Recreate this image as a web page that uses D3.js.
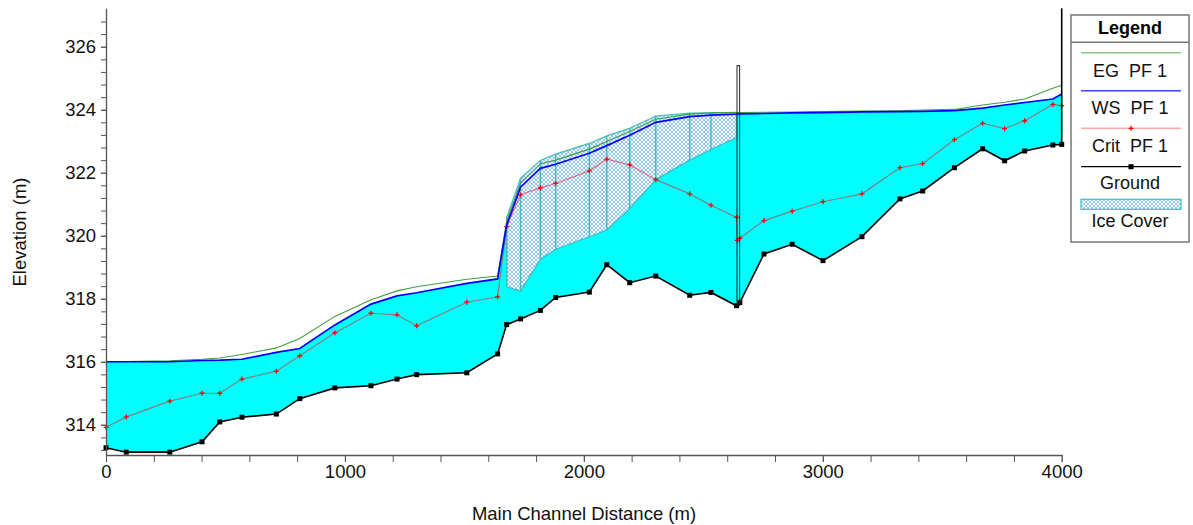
<!DOCTYPE html>
<html lang="en">
<head>
<meta charset="UTF-8">
<title>Profile Plot</title>
<script src="https://cdn.jsdelivr.net/npm/d3@7"></script>
<style>
  body { margin: 0; background: #fff; }
  text { font-family: "Liberation Sans", Arial, sans-serif; }
</style>
</head>
<body>
<svg id="main" width="1193" height="525"></svg>
<script>
// cross sections (main channel distance, m)
var stations = [0, 85, 267, 402, 476, 569, 713, 811, 958, 1109, 1218, 1300, 1510, 1639, 1677,
  1735, 1818, 1882, 2023, 2096, 2192, 2301, 2443, 2532, 2639, 2653, 2754, 2872, 3001, 3164,
  3323, 3418, 3551, 3669, 3761, 3845, 3963, 4000];
var ground = [313.27, 313.13, 313.13, 313.46, 314.09, 314.24, 314.34, 314.83, 315.17, 315.24,
  315.45, 315.59, 315.65, 316.25, 317.18, 317.36, 317.63, 318.04, 318.21, 319.08, 318.51,
  318.72, 318.11, 318.2, 317.78, 317.88, 319.42, 319.73, 319.21, 319.97, 321.17, 321.42,
  322.16, 322.76, 322.38, 322.69, 322.88, 322.9];
var wsPF1 = [316.0, 316.0, 316.0, 316.04, 316.05, 316.08, 316.3, 316.42, 317.17, 317.83,
  318.09, 318.19, 318.49, 318.63, 320.34, 321.54, 322.14, 322.27, 322.62, 322.86, 323.19,
  323.6, 323.78, 323.83, 323.86, 323.87, 323.88, 323.9, 323.91, 323.93, 323.94, 323.95,
  323.97, 324.05, 324.15, 324.23, 324.34, 324.5];
var egPF1 = [316.0, 316.01, 316.03, 316.08, 316.12, 316.23, 316.44, 316.74, 317.44, 317.97,
  318.25, 318.38, 318.62, 318.72, 320.47, 321.67, 322.28, 322.4, 322.75, 322.99, 323.31,
  323.7, 323.86, 323.9, 323.91, 323.91, 323.92, 323.93, 323.94, 323.96, 323.97, 323.99,
  324.01, 324.15, 324.24, 324.34, 324.68, 324.78];

var critDist = [0, 85, 267, 402, 476, 569, 713, 811, 958, 1109, 1218, 1300, 1510, 1639, 1677,
  1735, 1818, 1882, 2023, 2096, 2192, 2301, 2443, 2532, 2639, 2642, 2653, 2754, 2872, 3001,
  3164, 3323, 3418, 3551, 3669, 3761, 3845, 3963, 4000];
var critPF1 = [313.92, 314.25, 314.75, 315.0, 315.0, 315.45, 315.7, 316.19, 316.92, 317.54,
  317.49, 317.14, 317.89, 318.06, 320.29, 321.3, 321.52, 321.66, 322.06, 322.43, 322.25,
  321.78, 321.33, 320.97, 320.58, 319.85, 319.92, 320.48, 320.78, 321.08, 321.33, 322.16,
  322.29, 323.05, 323.57, 323.4, 323.65, 324.17, 324.13];

var iceDist = [1677, 1735, 1818, 1882, 2023, 2096, 2192, 2301, 2443, 2532, 2639];
var iceTop = [320.58, 321.82, 322.39, 322.59, 322.93, 323.17, 323.41, 323.8, 323.89, 323.9, 323.92];
var iceBottom = [318.38, 318.24, 319.25, 319.57, 319.97, 320.18, 320.86, 321.79, 322.4, 322.74, 323.12];

// inline structure
var structDist = [2641, 2652];
var structTop = 325.4;

var xMajor = [0, 1000, 2000, 3000, 4000];
var yMajor = [314, 316, 318, 320, 322, 324, 326];
var legendLabels = ["EG  PF 1", "WS  PF 1", "Crit  PF 1", "Ground", "Ice Cover"];

var svg = d3.select('svg#main');

var x = d3.scaleLinear().domain([0, 4000]).range([106, 1061.7]);
var y = d3.scaleLinear().domain([313.04, 327.22]).range([455, 8.3]);

var defs = svg.append('defs');
var pat = defs.append('pattern')
    .attr('id', 'ice').attr('patternUnits', 'userSpaceOnUse')
    .attr('width', 4).attr('height', 4);
pat.append('rect').attr('width', 4).attr('height', 4).attr('fill', '#ffffff');
pat.append('path').attr('d', 'M0,0L4,4M4,0L0,4').attr('stroke', '#6cb2f4').attr('stroke-width', 0.75);

var gData = stations.map(function(d, i) {
    return {d: d, g: ground[i], ws: wsPF1[i], eg: egPF1[i]};
});
var iceData = iceDist.map(function(d, i) { return {d: d, t: iceTop[i], b: iceBottom[i]}; });
var critData = critDist.map(function(d, i) { return {d: d, c: critPF1[i]}; });

// water
svg.append('path')
    .datum(gData)
    .attr('fill', '#00ffff')
    .attr('d', d3.area().x(function(d) { return x(d.d); })
        .y0(function(d) { return y(d.g); }).y1(function(d) { return y(d.ws); }));

// ice cover
var iceArea = d3.area().x(function(d) { return x(d.d); })
    .y0(function(d) { return y(d.b); }).y1(function(d) { return y(d.t); });
svg.append('path')
    .datum(iceData)
    .attr('fill', 'url(#ice)')
    .attr('stroke', '#40bcbc').attr('stroke-width', 1.2)
    .attr('d', iceArea);

svg.append('g').selectAll('line')
    .data(iceData)
    .enter().append('line')
    .attr('x1', function(d) { return x(d.d); }).attr('x2', function(d) { return x(d.d); })
    .attr('y1', function(d) { return y(d.b); }).attr('y2', function(d) { return y(d.t); })
    .attr('stroke', '#40bcbc').attr('stroke-width', 1.4);

// ground
svg.append('path')
    .datum(gData)
    .attr('fill', 'none').attr('stroke', '#000').attr('stroke-width', 1.6)
    .attr('d', d3.line().x(function(d) { return x(d.d); }).y(function(d) { return y(d.g); }));
svg.append('g').selectAll('rect')
    .data(gData)
    .enter().append('rect')
    .attr('x', function(d) { return x(d.d) - 2.5; })
    .attr('y', function(d) { return y(d.g) - 2.5; })
    .attr('width', 5).attr('height', 5).attr('fill', '#000');

// critical depth
svg.append('path')
    .datum(critData)
    .attr('fill', 'none').attr('stroke', '#ff0000').attr('stroke-opacity', 0.5).attr('stroke-width', 1.2)
    .attr('d', d3.line().x(function(d) { return x(d.d); }).y(function(d) { return y(d.c); }));
svg.append('g').selectAll('path')
    .data(critData)
    .enter().append('path')
    .attr('transform', function(d) { return 'translate(' + x(d.d) + ',' + y(d.c) + ')'; })
    .attr('d', 'M-2.5,0H2.5M0,-2.5V2.5')
    .attr('stroke', '#ff0000').attr('stroke-width', 1.3);

// energy grade and water surface
svg.append('path')
    .datum(gData)
    .attr('fill', 'none').attr('stroke', '#3f9f3f').attr('stroke-width', 1.1)
    .attr('d', d3.line().x(function(d) { return x(d.d); }).y(function(d) { return y(d.eg); }));
svg.append('path')
    .datum(gData)
    .attr('fill', 'none').attr('stroke', '#0000ff').attr('stroke-width', 1.7)
    .attr('d', d3.line().x(function(d) { return x(d.d); }).y(function(d) { return y(d.ws); }));

// structure
svg.append('rect')
    .attr('x', x(structDist[0])).attr('y', y(structTop))
    .attr('width', x(structDist[1]) - x(structDist[0]))
    .attr('height', y(ground[24]) - y(structTop))
    .attr('fill', 'none').attr('stroke', '#222').attr('stroke-width', 1);

// right end wall
svg.append('line')
    .attr('x1', x(4000)).attr('x2', x(4000))
    .attr('y1', y(ground[ground.length - 1])).attr('y2', y(327.22))
    .attr('stroke', '#000').attr('stroke-width', 1.6);

// axes
var yMinor = d3.range(0, 35).map(function(i) { return +(313.2 + 0.4 * i).toFixed(1); });
var xMinor = d3.range(0, 21).map(function(i) { return i * 200; });

var yAx = svg.append('g').attr('transform', 'translate(106,0)')
    .call(d3.axisLeft(y).tickValues(yMinor).tickSize(5).tickFormat('').tickSizeOuter(0));
var yAx2 = svg.append('g').attr('transform', 'translate(106,0)')
    .call(d3.axisLeft(y).tickValues(yMajor).tickSize(5).tickPadding(5).tickFormat(d3.format('d')));
var xAx = svg.append('g').attr('transform', 'translate(0,455)')
    .call(d3.axisBottom(x).tickValues(xMinor).tickSize(7).tickFormat('').tickSizeOuter(0));
var xAx2 = svg.append('g').attr('transform', 'translate(0,455)')
    .call(d3.axisBottom(x).tickValues(xMajor).tickSize(7).tickPadding(3).tickFormat(d3.format('d')));

svg.selectAll('.domain').attr('stroke', '#555').attr('stroke-width', 1.3);
svg.selectAll('.tick line').attr('stroke', '#555');
yAx2.selectAll('.domain').remove();
xAx2.selectAll('.domain').remove();
svg.selectAll('.tick text').attr('font-size', 18.5).attr('fill', '#111')
    .style('font-family', '"Liberation Sans", Arial, sans-serif');

svg.append('text')
    .attr('x', 584).attr('y', 520).attr('text-anchor', 'middle')
    .attr('font-size', 18.5).attr('fill', '#111')
    .text('Main Channel Distance (m)');
svg.append('text')
    .attr('transform', 'translate(26,232) rotate(-90)')
    .attr('text-anchor', 'middle').attr('font-size', 18.5).attr('fill', '#111')
    .text('Elevation (m)');

// legend
var lg = svg.append('g');
lg.append('rect').attr('x', 1071).attr('y', 15).attr('width', 118).attr('height', 227)
    .attr('fill', '#fff').attr('stroke', '#777').attr('stroke-width', 1.5);
lg.append('line').attr('x1', 1071).attr('x2', 1189).attr('y1', 42.3).attr('y2', 42.3)
    .attr('stroke', '#777').attr('stroke-width', 1.5);
lg.append('text').attr('x', 1130).attr('y', 34).attr('text-anchor', 'middle')
    .attr('font-size', 18).attr('font-weight', 'bold').text('Legend');

var lx0 = 1081, lx1 = 1181, lxm = 1131;
var rowY = [52.7, 90.7, 128.3, 166.7, 204.3];
lg.append('line').attr('x1', lx0).attr('x2', lx1).attr('y1', rowY[0]).attr('y2', rowY[0])
    .attr('stroke', '#3f9f3f').attr('stroke-opacity', 0.6).attr('stroke-width', 1.5);
lg.append('line').attr('x1', lx0).attr('x2', lx1).attr('y1', rowY[1]).attr('y2', rowY[1])
    .attr('stroke', '#0000ff').attr('stroke-opacity', 0.75).attr('stroke-width', 1.5);
lg.append('line').attr('x1', lx0).attr('x2', lx1).attr('y1', rowY[2]).attr('y2', rowY[2])
    .attr('stroke', '#ff0000').attr('stroke-opacity', 0.35).attr('stroke-width', 1.5);
lg.append('path').attr('transform', 'translate(' + lxm + ',' + rowY[2] + ')')
    .attr('d', 'M-2.5,0H2.5M0,-2.5V2.5').attr('stroke', '#ff0000').attr('stroke-width', 1.3);
lg.append('line').attr('x1', lx0).attr('x2', lx1).attr('y1', rowY[3]).attr('y2', rowY[3])
    .attr('stroke', '#000').attr('stroke-width', 1.3);
lg.append('rect').attr('x', lxm - 2.5).attr('y', rowY[3] - 2.5).attr('width', 5).attr('height', 5);
lg.append('rect').attr('x', lx0).attr('y', rowY[4] - 5).attr('width', lx1 - lx0).attr('height', 10)
    .attr('fill', 'url(#ice)').attr('stroke', '#40bcbc').attr('stroke-width', 1.2);

var textY = [70, 107.3, 145, 182.7, 220.7];
lg.selectAll('text.item')
    .data(legendLabels)
    .enter().append('text')
    .attr('class', 'item')
    .attr('x', 1130).attr('y', function(d, i) { return textY[i] + 6.5; })
    .attr('text-anchor', 'middle').attr('font-size', 18).attr('fill', '#111')
    .attr('xml:space', 'preserve').style('white-space', 'pre')
    .text(function(d) { return d; });
</script>
</body>
</html>
